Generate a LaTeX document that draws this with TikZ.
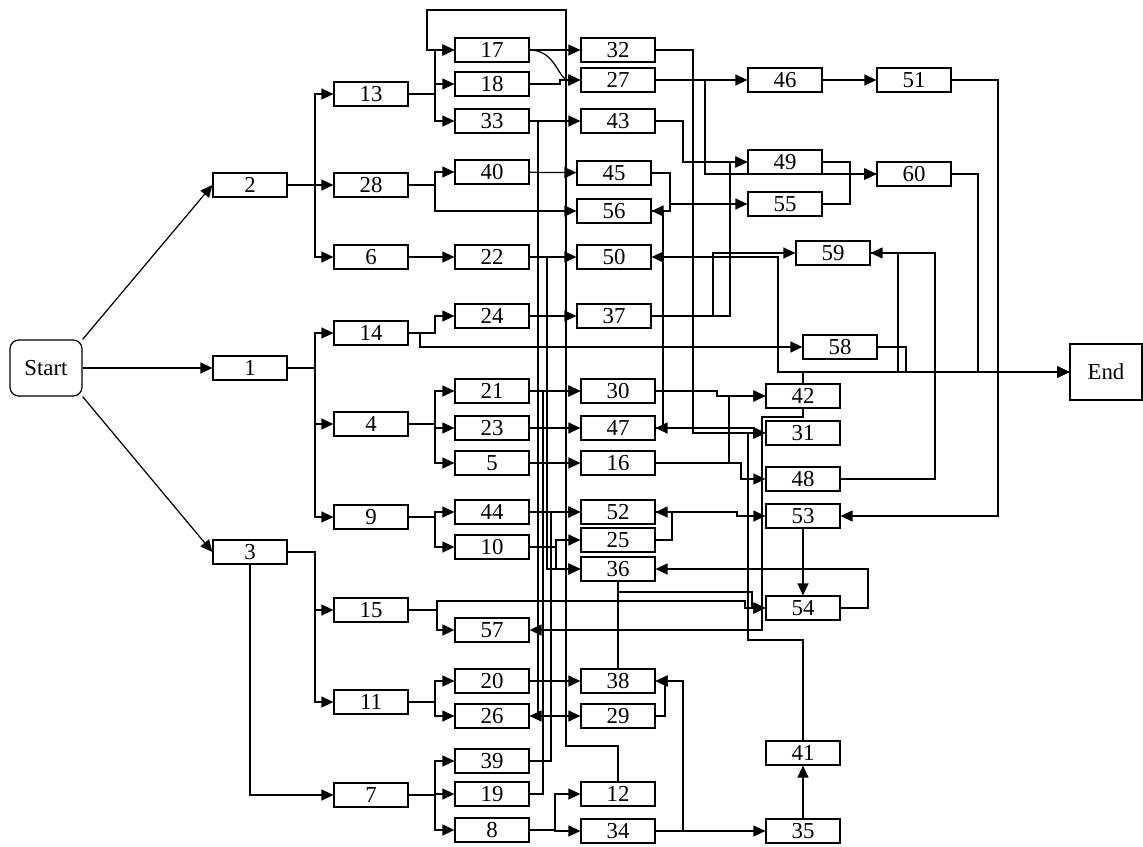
\documentclass[tikz,border=0pt]{standalone}
\usepackage{fontspec}
\setmainfont{Liberation Serif}
\usetikzlibrary{arrows.meta}
\tikzset{
  box/.style={draw, line width=0.7pt, minimum width=1.48cm, minimum height=0.48cm,
    inner sep=0pt, font=\fontsize{13}{15}\selectfont},
  term/.style={box, minimum width=1.44cm, minimum height=1.12cm},
  arr/.style={line width=0.7pt, -{Triangle[length=2.4mm,width=2.2mm]}},
  wire/.style={line width=0.7pt}
}
\begin{document}
\begin{tikzpicture}[x=0.02cm, y=-0.02cm]
    \useasboundingbox (0,0) rectangle (1143,846);
    % terminals
    \node[term, rounded corners=5pt] (start) at (46,368) {Start};
    \node[term] (end) at (1106,372) {End};
    % activities
    \foreach \n/\x/\y in
        {2/250/185, 1/250/368, 3/250/552,
         13/371/94, 28/371/185, 6/371/257, 14/371/333, 4/371/424, 9/371/517,
         15/371/610, 11/371/702, 7/371/795,
         17/492/50, 18/492/84, 33/492/121, 40/492/172, 22/492/257, 24/492/316,
         21/492/391, 23/492/428, 5/492/463, 44/492/512, 10/492/547, 57/492/630,
         20/492/681, 26/492/716, 39/492/761, 19/492/794, 8/492/830,
         32/618/50, 27/618/80, 43/618/121, 45/614/173, 56/614/211, 50/614/257,
         37/614/316, 30/618/391, 47/618/428, 16/618/463, 52/618/512, 25/618/540,
         36/618/569, 38/618/681, 29/618/716, 12/618/794, 34/618/831,
         46/785/80, 49/785/162, 55/785/204,
         42/803/396, 31/803/433, 48/803/479, 53/803/516, 54/803/608,
         41/803/753, 35/803/831,
         59/833/253, 58/840/347, 51/914/80, 60/914/174}
        \node[box] (n\n) at (\x,\y) {\n};

    % start fan
    \draw[arr] (start.north east) -- (n2.west);
    \draw[arr] (start.east) -- (n1.west);
    \draw[arr] (start.south east) -- (n3.west);

    % second column
    \foreach \t in {n13,n28,n6}
        \draw[arr] (n2.east) -- (315,185) |- (\t.west);
    \foreach \t in {n14,n4,n9}
        \draw[arr] (n1.east) -- (315,368) |- (\t.west);
    \foreach \t in {n15,n11}
        \draw[arr] (n3.east) -- (315,552) |- (\t.west);
    \draw[arr] (n3.south) |- (n7.west);

    % third column
    \foreach \t in {n17,n18,n33}
        \draw[arr] (n13.east) -- (435,94) |- (\t.west);
    \foreach \t in {n40,n56}
        \draw[arr] (n28.east) -- (435,185) |- (\t.west);
    \draw[arr] (n6) -- (n22);
    \draw[arr] (n14.east) -- (435,333) |- (n24.west);
    \draw[arr] (n14.east) -- (420,333) |- (n58.west);
    \foreach \t in {n21,n23,n5}
        \draw[arr] (n4.east) -- (435,424) |- (\t.west);
    \foreach \t in {n44,n10}
        \draw[arr] (n9.east) -- (435,517) |- (\t.west);
    \draw[arr] (n15.east) -- (437,610) |- (n57.west);
    \draw[arr] (n15.east) -- (437,610) -- (437,601) -- (745,601) |- (n54.west);
    \foreach \t in {n20,n26}
        \draw[arr] (n11.east) -- (435,702) |- (\t.west);
    \foreach \t in {n39,n19,n8}
        \draw[arr] (n7.east) -- (435,795) |- (\t.west);

    % fourth column
    \draw[arr] (n17) -- (n32);
    \draw[arr] (n17.east) .. controls (556,50) and (558,80) .. (n27.west);
    \draw[arr] (n18.east) -- (560,84) |- (n27.west);
    \draw[arr] (n33) -- (n43);
    \draw[arr] (n33.east) -- (538,121) |- (n26.east);
    \draw[arr] (n33.east) -- (538,121) |- (n29.west);
    \draw[arr] (n40) -- (n45);
    \draw[arr] (n22) -- (n50);
    \draw[arr] (n22.east) -- (547,257) |- (n36.west);
    \draw[arr] (n24) -- (n37);
    \draw[arr] (n21) -- (n30);
    \draw[arr] (n19.east) -- (543,794) |- (n30.west);
    \draw[arr] (n23) -- (n47);
    \draw[arr] (n5) -- (n16);
    \draw[arr] (n44) -- (n52);
    \draw[arr] (n39.east) -- (551,761) |- (n52.west);
    \draw[arr] (n10.east) -- (556,547) |- (n25.west);
    \draw[arr] (n10.east) -- (556,547) |- (n36.west);
    \draw[arr] (n20) -- (n38);
    \draw[arr] (n8.east) -- (555,830) |- (n12.west);
    \draw[arr] (n8.east) -- (555,830) |- (n34.west);
    \draw[arr] (n12.north) -- (618,746) -- (566,746) -- (566,10) -- (427,10) |- (n17.west);

    % right part
    \draw[arr] (n27) -- (n46);
    \draw[arr] (n27.east) -- (705,80) |- (n60.west);
    \draw[arr] (n46) -- (n51);
    \draw[arr] (n51.east) -- (998,80) |- (n53.east);
    \draw[arr] (n43.east) -- (683,121) |- (n49.west);
    \draw[arr] (n37.east) -- (730,316) |- (n49.west);
    \draw[arr] (n37.east) -- (713,316) |- (n59.west);
    \draw[arr] (n49.east) -- (850,162) |- (n60.west);
    \draw[arr] (n55.east) -- (850,204) |- (n60.west);
    \draw[arr] (n45.east) -- (670,173) |- (n55.west);
    \draw[arr] (n45.east) -- (670,173) |- (n56.east);
    \draw[arr] (n56.east) -- (663,211) |- (n47.east);
    \draw[arr] (n32.east) -- (693,50) |- (n31.west);
    \draw[arr] (n30.east) -- (717,391) |- (n42.west);
    \draw[arr] (n16.east) -- (729,463) |- (n42.west);
    \draw[arr] (n16.east) -- (741,463) |- (n48.west);
    \draw[arr] (n47.east) -- (754,428) |- (n31.west);
    \draw[arr] (n52.east) -- (737,512) |- (n53.west);
    \draw[arr] (n25.east) -- (672,540) |- (n52.east);
    \draw[arr] (n36.south) |- (752,592) |- (n54.west);
    \draw[wire] (n36.south) -- (n38.north);
    \draw[arr] (n29.east) -- (665,716) |- (n38.east);
    \draw[arr] (n34.east) -- (683,831) |- (n38.east);
    \draw[arr] (n34) -- (n35);
    \draw[arr] (n35) -- (n41);
    \draw[arr] (n41.north) |- (748,640) |- (n31.west);
    \draw[arr] (n53) -- (n54);
    \draw[arr] (n54.east) -- (868,608) |- (n36.east);
    \draw[arr] (n48.east) -- (935,479) |- (n59.east);
    \draw[arr] (n42.north) |- (778,372) |- (n50.east);
    \draw[arr] (n42.south) -- (803,417) -| (762,630) -- (n57.east);
    \draw[arr] (n42.north) |- (end.west);
    \draw[arr] (n59.east) -- (898,253) |- (end.west);
    \draw[arr] (n58.east) -- (906,347) |- (end.west);
    \draw[arr] (n60.east) -- (978,174) |- (end.west);
\end{tikzpicture}
\end{document}
